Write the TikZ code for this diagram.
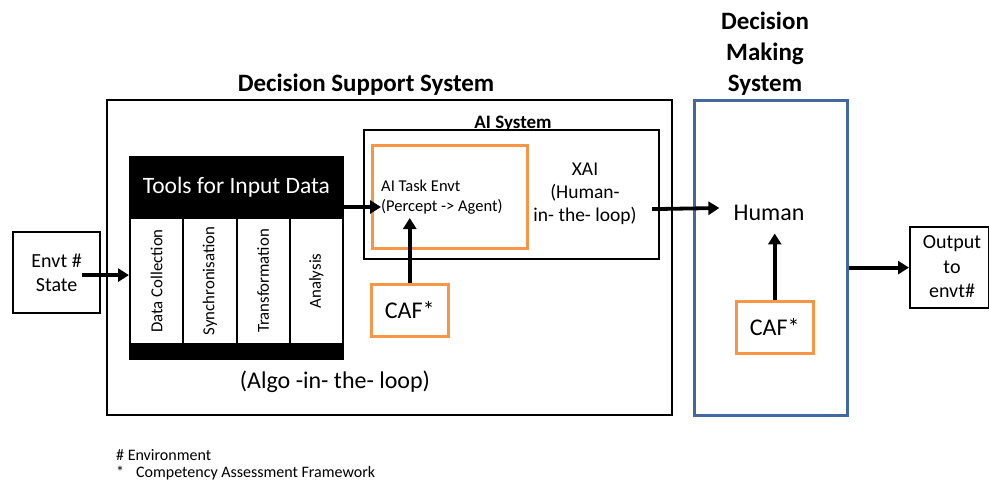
\documentclass[tikz,border=0pt]{standalone}
\usepackage{fontspec}
\setmainfont{Carlito}
\usetikzlibrary{arrows.meta}
\definecolor{cafor}{RGB}{247,150,70}
\definecolor{dmsblue}{RGB}{65,105,160}
\newcommand\fsz[2]{\fontsize{#1}{#2}\selectfont}

\begin{document}
\begin{tikzpicture}[x=1pt,y=-1pt,
  frame/.style={draw=black,line width=2.2pt,anchor=north west,inner sep=0pt},
  cafbox/.style={draw=cafor,line width=2.5pt,anchor=north west,inner sep=0pt,
                 minimum width=77pt,minimum height=52pt,font=\fsz{24}{28}},
  colbox/.style={draw=black,line width=2pt,fill=white,anchor=north west,
                 minimum width=53.25pt,minimum height=126pt,inner sep=0pt},
  collabel/.style={rotate=90,font=\fsz{16.8}{19}},
  flow/.style={line width=3.8pt,-{Triangle[length=11pt,width=13pt]}},
  title/.style={font=\fsz{25}{31}\bfseries,align=center},
  plain/.style={inner sep=0pt,align=center}]
\useasboundingbox (0,0) rectangle (989,482);

% ---- outer systems ----
\node[frame,minimum width=565pt,minimum height=315pt] (dss) at (106,99) {};
\node[title] (dsstitle) at (366,85) {Decision Support System};

\node[draw=dmsblue,line width=2.5pt,anchor=north west,inner sep=0pt,
      minimum width=153pt,minimum height=315pt] (dms) at (693,99) {};
\node[title] (dmstitle) at (765,54) {Decision\\Making\\System};

% ---- environment in / out ----
\node[frame,minimum width=87pt,minimum height=81pt,
      font=\fsz{20}{24},align=center] (envt) at (12,231) {Envt \#\\State};
\node[frame,minimum width=79pt,minimum height=81pt] (out) at (909,226) {};
\node[plain,font=\fsz{20}{24.5}] (outtxt) at (952,267) {Output\\to\\envt\#};

% ---- tools for input data ----
\node[draw=black,fill=black,line width=2pt,anchor=north west,inner sep=0pt,
      minimum width=213pt,minimum height=61pt,text=white,font=\fsz{23.5}{28}]
      (header) at (129,156) {Tools for Input Data};
\node[colbox] (c1) at (129,217) {};
\node[colbox] (c2) at (182.25,217) {};
\node[colbox] (c3) at (235.5,217) {};
\node[colbox] (c4) at (288.75,217) {};
\node[collabel] at (c1.center) {Data Collection};
\node[collabel] at (c2.center) {Synchronisation};
\node[collabel] at (c3.center) {Transformation};
\node[collabel] at (c4.center) {Analysis};
\node[draw=black,fill=black,line width=2pt,anchor=north west,inner sep=0pt,
      minimum width=213pt,minimum height=15pt] (footbar) at (129,343) {};

% ---- AI system ----
\node[frame,minimum width=295pt,minimum height=129pt] (ai) at (363,129) {};
\node[font=\fsz{19}{22}\bfseries,anchor=base,inner sep=0pt] (aititle) at (513,128) {AI System};
\node[cafbox,minimum width=155pt,minimum height=103pt] (task) at (371,144) {};
\node[plain,align=left,anchor=west,font=\fsz{16.5}{20}] (tasktxt) at (381,197)
      {AI Task Envt\\(Percept -> Agent)};
\coordinate (taskin) at (381,207);
\coordinate (taskup) at (408,218);
\node[plain,font=\fsz{19.5}{23}] (xai) at (585,194) {XAI\\(Human-\\in- the- loop)};

\node[cafbox] (caf1) at (370,283) {CAF*};
\node[font=\fsz{24}{28}] (algo) at (335,382) {(Algo -in- the- loop)};

% ---- decision making ----
\node[plain,font=\fsz{24}{28}] (human) at (769,212.5) {Human};
\node[cafbox] (caf2) at (735,300) {CAF*};

% ---- connectors ----
\draw[flow] ([xshift=-19pt,yshift=-2.5pt]envt.east) -- ([yshift=-2.5pt]envt.east -| header.west);
\draw[flow] (header.east |- taskin) -- (taskin);
\draw[flow] (caf1.north) -- (caf1.north |- taskup);
\draw[flow] ([xshift=-8pt,yshift=-14.5pt]ai.east) -- ([xshift=-14pt,yshift=4.5pt]human.west);
\draw[flow,shorten >=13pt] (caf2.north) -- (caf2.north |- human.south);
\draw[flow] (dms.east |- out.west) -- (out.west);

% ---- notes ----
\node[anchor=west,inner sep=0pt,font=\fsz{16}{19}] (note1) at (116,455) {\# Environment};
\node[anchor=west,inner sep=0pt,font=\fsz{16}{19}] (note2) at (116,473)
      {*\hspace{12pt}Competency Assessment Framework};
\end{tikzpicture}
\end{document}
